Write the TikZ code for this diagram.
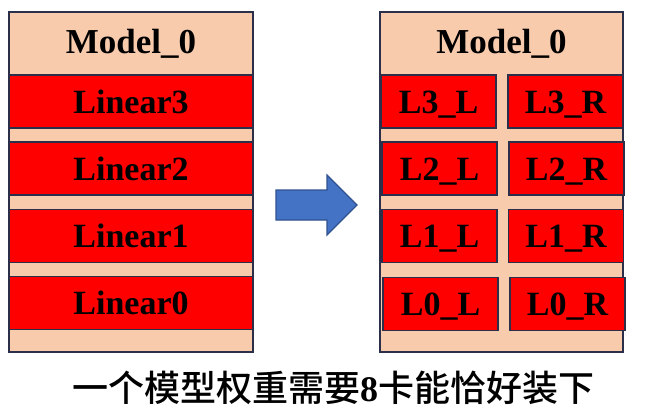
\documentclass[tikz,border=0pt]{standalone}
\usepackage{fontspec}
\setmainfont{Liberation Serif}
\newfontfamily\cjk{Noto Sans CJK SC Medium}
\usetikzlibrary{positioning}
\definecolor{peach}{HTML}{F8CBAD}
\definecolor{edge}{HTML}{2B2F4A}
\definecolor{arrowblue}{HTML}{4472C4}
\definecolor{arrowedge}{HTML}{2F528F}

\begin{document}
\begin{tikzpicture}[x=1pt,y=-1pt,
  panel/.style={rectangle, draw=edge, line width=1.6pt, fill=peach, inner sep=0pt, minimum width=244pt, minimum height=340pt},
  layer/.style={rectangle, draw=edge, line width=1.6pt, fill=red, inner sep=0pt, minimum width=244pt, minimum height=53pt, text height=23pt, text depth=0pt, font=\fontsize{34}{34}\selectfont\bfseries},
  half/.style={layer, minimum width=115pt},
  title/.style={anchor=base, font=\fontsize{35}{35}\selectfont\bfseries},
  caption/.style={font=\fontsize{36}{36}\selectfont}]
\useasboundingbox (0,0) rectangle (645,415);

\node[panel] (left) at (131,182) {};
\node[title] (lefttitle) at (131,53.5) {Model\_0};
\node[layer] (lin3) at (131,101.5) {Linear3};
\node[layer] (lin2) at (131,168.5) {Linear2};
\node[layer] (lin1) at (131,236) {Linear1};
\node[layer] (lin0) at (131,303) {Linear0};

\draw[draw=arrowedge, fill=arrowblue, line width=1.2pt, line join=miter]
  (276,190) -- (327,190) -- (327,175) -- (357,205) -- (327,235) -- (327,220) -- (276,220) -- cycle;

\node[panel, minimum width=243pt] (right) at (501.5,182) {};
\node[title] (righttitle) at (501.5,53.5) {Model\_0};
\node[half] (l3l) at (438.5,101.5) {L3\_L};
\node[half] (l3r) at (565.5,101.5) {L3\_R};
\node[half] (l2l) at (439.5,168.5) {L2\_L};
\node[half] (l2r) at (566.5,168.5) {L2\_R};
\node[half] (l1l) at (439.5,236) {L1\_L};
\node[half] (l1r) at (566,236) {L1\_R};
\node[half] (l0l) at (440.5,304) {L0\_L};
\node[half] (l0r) at (567.5,304) {L0\_R};

\node[caption] (note) at (333,388) {\cjk 一个模型权重需要{\rmfamily\bfseries 8}卡能恰好装下};
\end{tikzpicture}
\end{document}
